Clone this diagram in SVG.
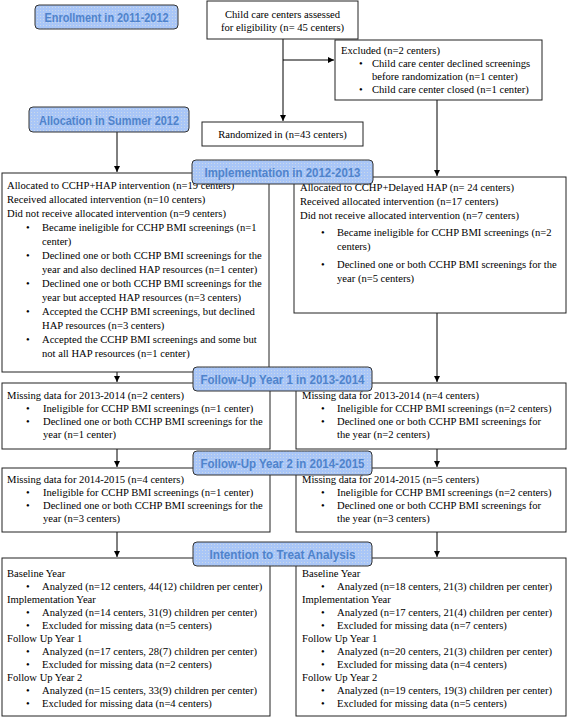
<svg xmlns="http://www.w3.org/2000/svg" width="568" height="718" viewBox="0 0 568 718">
<style>
.box{fill:#fff;stroke:#222;stroke-width:1}
.ban{fill:url(#dots);stroke:#333;stroke-width:1}
.bt{font-family:"Liberation Sans",Arial,sans-serif;font-weight:bold;font-size:13px;fill:#4f83cb;text-anchor:middle}
.t{font-family:"Liberation Serif","Times New Roman",serif;font-size:10.6px;fill:#000}
.c{text-anchor:middle}
.ln{stroke:#000;stroke-width:1;fill:none;marker-end:url(#ah)}
</style>
<defs>
<pattern id="dots" width="3" height="3" patternUnits="userSpaceOnUse">
<rect width="3" height="3" fill="#a9c6f7"/>
<rect x="1" y="1" width="1" height="1" fill="#cbd8e8"/>
</pattern>
<marker id="ah" markerWidth="6" markerHeight="6" refX="6" refY="3" orient="auto" markerUnits="userSpaceOnUse">
<path d="M0,0 L6,3 L0,6 z" fill="#000"/>
</marker>
</defs>

<g id="connectors">
<path class="ln" d="M283,39 V121"/>
<path class="ln" d="M283,60 H334"/>
<path class="ln" d="M117,132 V172"/>
<path class="ln" d="M437,100 V176"/>
<path class="ln" d="M117,372 V382"/>
<path class="ln" d="M437,313 V382"/>
<path class="ln" d="M117,449 V467"/>
<path class="ln" d="M437,449 V467"/>
<path class="ln" d="M117,532 V557"/>
<path class="ln" d="M437,532 V557"/>
</g>

<g id="enroll-banner">
<rect class="ban" x="35" y="5" width="143" height="24" rx="4"/>
<text class="bt" x="106.5" y="22" textLength="124" lengthAdjust="spacingAndGlyphs">Enrollment in 2011-2012</text>
</g>

<g id="assessed">
<rect class="box" x="207" y="1" width="151" height="38"/>
<text class="t c" x="282.5" y="17.5">Child care centers assessed</text>
<text class="t c" x="282.5" y="31">for eligibility (n= 45 centers)</text>
</g>

<g id="excluded">
<rect class="box" x="335" y="40" width="207" height="60"/>
<text class="t" x="341" y="54">Excluded (n=2 centers)</text>
<text class="t" x="359" y="67">•</text>
<text class="t" x="372" y="67">Child care center declined screenings</text>
<text class="t" x="372" y="80">before randomization (n=1 center)</text>
<text class="t" x="359" y="93">•</text>
<text class="t" x="372" y="93">Child care center closed (n=1 center)</text>
</g>

<g id="alloc-banner">
<rect class="ban" x="29" y="107" width="160" height="25" rx="4"/>
<text class="bt" x="109" y="124.5" textLength="140" lengthAdjust="spacingAndGlyphs">Allocation in Summer 2012</text>
</g>

<g id="randomized">
<rect class="box" x="202" y="122" width="161" height="24"/>
<text class="t c" x="282.5" y="138">Randomized in (n=43 centers)</text>
</g>

<g id="impl-left">
<rect class="box" x="2" y="173" width="267" height="199"/>
<text class="t" x="7" y="189">Allocated to CCHP+HAP intervention (n=19 centers)</text>
<text class="t" x="7" y="203">Received allocated intervention (n=10 centers)</text>
<text class="t" x="7" y="217">Did not receive allocated intervention (n=9 centers)</text>
<text class="t" x="26" y="231">•</text>
<text class="t" x="42" y="231">Became ineligible for CCHP BMI screenings (n=1</text>
<text class="t" x="42" y="245">center)</text>
<text class="t" x="26" y="259">•</text>
<text class="t" x="42" y="259">Declined one or both CCHP BMI screenings for the</text>
<text class="t" x="42" y="273">year and also declined HAP resources (n=1 center)</text>
<text class="t" x="26" y="287">•</text>
<text class="t" x="42" y="287">Declined one or both CCHP BMI screenings for the</text>
<text class="t" x="42" y="301">year but accepted HAP resources (n=3 centers)</text>
<text class="t" x="26" y="315">•</text>
<text class="t" x="42" y="315">Accepted the CCHP BMI screenings, but declined</text>
<text class="t" x="42" y="329">HAP resources (n=3 centers)</text>
<text class="t" x="26" y="343">•</text>
<text class="t" x="42" y="343">Accepted the CCHP BMI screenings and some but</text>
<text class="t" x="42" y="357">not all HAP resources (n=1 center)</text>
</g>

<g id="impl-right">
<rect class="box" x="294" y="177" width="272" height="136"/>
<text class="t" x="300" y="191">Allocated to CCHP+Delayed HAP (n= 24 centers)</text>
<text class="t" x="300" y="205">Received allocated intervention (n=17 centers)</text>
<text class="t" x="300" y="219">Did not receive allocated intervention (n=7 centers)</text>
<text class="t" x="321" y="236">•</text>
<text class="t" x="337" y="236">Became ineligible for CCHP BMI screenings (n=2</text>
<text class="t" x="337" y="250">centers)</text>
<text class="t" x="321" y="268">•</text>
<text class="t" x="337" y="268">Declined one or both CCHP BMI screenings for the</text>
<text class="t" x="337" y="282">year (n=5 centers)</text>
</g>

<g id="impl-banner">
<rect class="ban" x="192" y="160" width="181" height="24" rx="4"/>
<text class="bt" x="282.5" y="177" textLength="156" lengthAdjust="spacingAndGlyphs">Implementation in 2012-2013</text>
</g>

<g id="fu1-left">
<rect class="box" x="2" y="383" width="268" height="66"/>
<text class="t" x="7" y="399">Missing data for 2013-2014 (n=2 centers)</text>
<text class="t" x="26" y="412">•</text>
<text class="t" x="43" y="412">Ineligible for CCHP BMI screenings (n=1 center)</text>
<text class="t" x="26" y="425">•</text>
<text class="t" x="43" y="425">Declined one or both CCHP BMI screenings for the</text>
<text class="t" x="43" y="438">year (n=1 center)</text>
</g>

<g id="fu1-right">
<rect class="box" x="296" y="383" width="270" height="66"/>
<text class="t" x="302" y="399">Missing data for 2013-2014 (n=4 centers)</text>
<text class="t" x="321" y="412">•</text>
<text class="t" x="337" y="412">Ineligible for CCHP BMI screenings (n=2 centers)</text>
<text class="t" x="321" y="425">•</text>
<text class="t" x="337" y="425">Declined one or both CCHP BMI screenings for</text>
<text class="t" x="337" y="438">the year (n=2 centers)</text>
</g>

<g id="fu1-banner">
<rect class="ban" x="193" y="367" width="179" height="24" rx="4"/>
<text class="bt" x="282.5" y="384" textLength="164" lengthAdjust="spacingAndGlyphs">Follow-Up Year 1 in 2013-2014</text>
</g>

<g id="fu2-left">
<rect class="box" x="2" y="468" width="268" height="64"/>
<text class="t" x="7" y="483">Missing data for 2014-2015 (n=4 centers)</text>
<text class="t" x="26" y="496">•</text>
<text class="t" x="43" y="496">Ineligible for CCHP BMI screenings (n=1 center)</text>
<text class="t" x="26" y="509">•</text>
<text class="t" x="43" y="509">Declined one or both CCHP BMI screenings for the</text>
<text class="t" x="43" y="522">year (n=3 centers)</text>
</g>

<g id="fu2-right">
<rect class="box" x="296" y="468" width="270" height="64"/>
<text class="t" x="302" y="483">Missing data for 2014-2015 (n=5 centers)</text>
<text class="t" x="321" y="496">•</text>
<text class="t" x="337" y="496">Ineligible for CCHP BMI screenings (n=2 centers)</text>
<text class="t" x="321" y="509">•</text>
<text class="t" x="337" y="509">Declined one or both CCHP BMI screenings for</text>
<text class="t" x="337" y="522">the year (n=3 centers)</text>
</g>

<g id="fu2-banner">
<rect class="ban" x="193" y="451" width="179" height="24" rx="4"/>
<text class="bt" x="282.5" y="468" textLength="164" lengthAdjust="spacingAndGlyphs">Follow-Up Year 2 in 2014-2015</text>
</g>

<g id="itt-left">
<rect class="box" x="2" y="558" width="268" height="158"/>
<text class="t" x="7" y="577">Baseline Year</text>
<text class="t" x="26" y="590">•</text>
<text class="t" x="42" y="590">Analyzed (n=12 centers, 44(12) children per center)</text>
<text class="t" x="7" y="603">Implementation Year</text>
<text class="t" x="26" y="616">•</text>
<text class="t" x="42" y="616">Analyzed (n=14 centers, 31(9) children per center)</text>
<text class="t" x="26" y="629">•</text>
<text class="t" x="42" y="629">Excluded for missing data (n=5 centers)</text>
<text class="t" x="7" y="642">Follow Up Year 1</text>
<text class="t" x="26" y="655">•</text>
<text class="t" x="42" y="655">Analyzed (n=17 centers, 28(7) children per center)</text>
<text class="t" x="26" y="668">•</text>
<text class="t" x="42" y="668">Excluded for missing data (n=2 centers)</text>
<text class="t" x="7" y="681">Follow Up Year 2</text>
<text class="t" x="26" y="694">•</text>
<text class="t" x="42" y="694">Analyzed (n=15 centers, 33(9) children per center)</text>
<text class="t" x="26" y="707">•</text>
<text class="t" x="42" y="707">Excluded for missing data (n=4 centers)</text>
</g>

<g id="itt-right">
<rect class="box" x="296" y="558" width="270" height="158"/>
<text class="t" x="302" y="577">Baseline Year</text>
<text class="t" x="321" y="590">•</text>
<text class="t" x="337" y="590">Analyzed (n=18 centers, 21(3) children per center)</text>
<text class="t" x="302" y="603">Implementation Year</text>
<text class="t" x="321" y="616">•</text>
<text class="t" x="337" y="616">Analyzed (n=17 centers, 21(4) children per center)</text>
<text class="t" x="321" y="629">•</text>
<text class="t" x="337" y="629">Excluded for missing data (n=7 centers)</text>
<text class="t" x="302" y="642">Follow Up Year 1</text>
<text class="t" x="321" y="655">•</text>
<text class="t" x="337" y="655">Analyzed (n=20 centers, 21(3) children per center)</text>
<text class="t" x="321" y="668">•</text>
<text class="t" x="337" y="668">Excluded for missing data (n=4 centers)</text>
<text class="t" x="302" y="681">Follow Up Year 2</text>
<text class="t" x="321" y="694">•</text>
<text class="t" x="337" y="694">Analyzed (n=19 centers, 19(3) children per center)</text>
<text class="t" x="321" y="707">•</text>
<text class="t" x="337" y="707">Excluded for missing data (n=5 centers)</text>
</g>

<g id="itt-banner">
<rect class="ban" x="193" y="542" width="179" height="24" rx="4"/>
<text class="bt" x="282.5" y="559" textLength="146" lengthAdjust="spacingAndGlyphs">Intention to Treat Analysis</text>
</g>
</svg>
